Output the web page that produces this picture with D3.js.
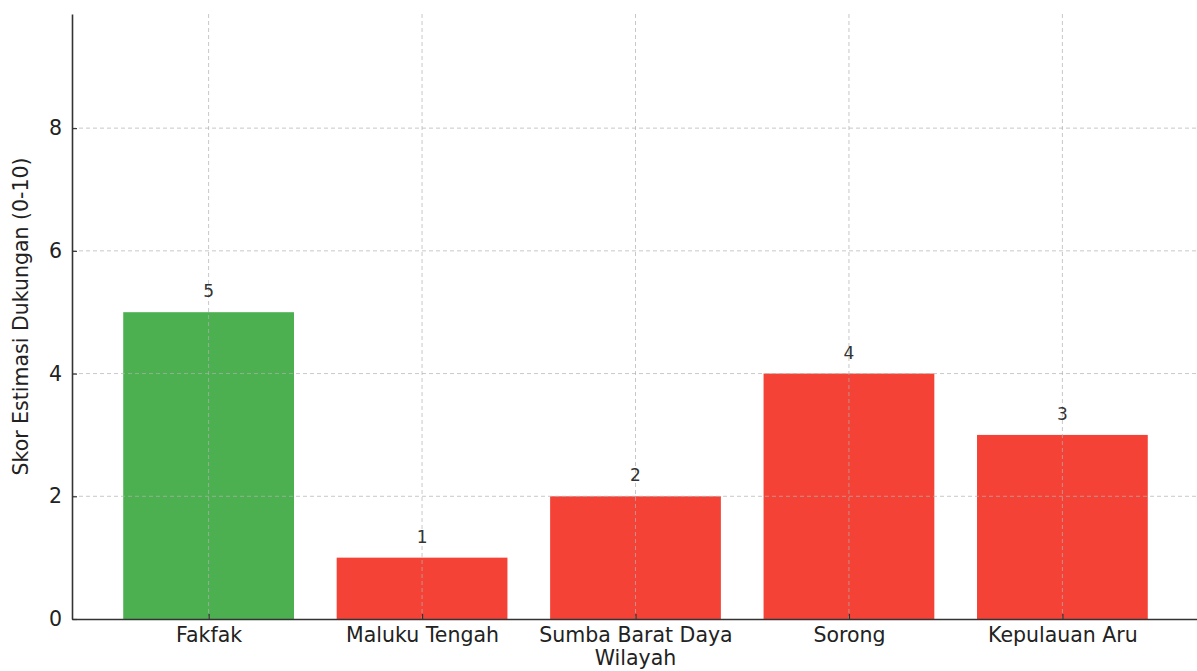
<!DOCTYPE html>
<html>
<head>
<meta charset="utf-8">
<script src="https://cdn.jsdelivr.net/npm/d3@7"></script>
<style>
  body { margin: 0; background: #fff; }
  svg { display: block; }
  svg text { font-family: "DejaVu Sans", sans-serif; }
</style>
</head>
<body>
<div id="chart"></div>
<script>
const regions = ['Fakfak', 'Maluku Tengah', 'Sumba Barat Daya', 'Sorong', 'Kepulauan Aru'];
const scores = [5, 1, 2, 4, 3];
const barColors = ['#4caf50', '#f44336', '#f44336', '#f44336', '#f44336'];
const yTicks = [0, 2, 4, 6, 8];

const width = 1197, height = 671;
const margin = { top: 14, right: -2, bottom: 52, left: 72 };

const svg = d3.select('#chart').append('svg')
  .attr('width', width)
  .attr('height', height);

// matplotlib-like: band centers at integer positions, bars 0.8 wide, 5% margin
const x = d3.scaleLinear()
  .domain([-0.64, regions.length - 1 + 0.64])
  .range([margin.left, width - margin.right]);
const y = d3.scaleLinear()
  .domain([0, 9.86])
  .range([height - margin.bottom, margin.top]);
const barW = x(0.8) - x(0);

// bars
svg.append('g')
  .selectAll('rect')
  .data(scores)
  .join('rect')
  .attr('x', (d, i) => x(i) - barW / 2)
  .attr('y', d => y(d))
  .attr('width', barW)
  .attr('height', d => y(0) - y(d))
  .attr('fill', (d, i) => barColors[i]);

// grid drawn over the bars
const grid = svg.append('g')
  .attr('stroke', '#b0b0b0')
  .attr('stroke-opacity', 0.7)
  .attr('stroke-dasharray', '4,3')
  .attr('stroke-width', 1);
grid.selectAll('.hg')
  .data(yTicks.slice(1))
  .join('line')
  .attr('x1', margin.left).attr('x2', width)
  .attr('y1', d => y(d)).attr('y2', d => y(d));
grid.selectAll('.vg')
  .data(regions)
  .join('line')
  .attr('x1', (d, i) => x(i)).attr('x2', (d, i) => x(i))
  .attr('y1', margin.top).attr('y2', y(0));

// value labels
svg.append('g')
  .selectAll('text')
  .data(scores)
  .join('text')
  .attr('x', (d, i) => x(i))
  .attr('y', d => y(d) - 15)
  .attr('text-anchor', 'middle')
  .attr('font-size', 17)
  .attr('fill', '#333')
  .text(d => d);

// axes with inward ticks
const xAxis = svg.append('g')
  .attr('transform', `translate(0,${y(0)})`)
  .call(d3.axisBottom(x)
    .tickValues(d3.range(regions.length))
    .tickFormat(i => regions[i])
    .tickSizeInner(-5)
    .tickSizeOuter(0)
    .tickPadding(8));
xAxis.attr('font-family', null);
xAxis.select('.domain').attr('stroke', '#333').attr('stroke-width', 1.6);
xAxis.selectAll('.tick line').attr('stroke', '#333').attr('stroke-width', 1.2);
xAxis.selectAll('.tick text').attr('font-size', 20.5).attr('fill', '#222');

const yAxis = svg.append('g')
  .attr('transform', `translate(${margin.left},0)`)
  .call(d3.axisLeft(y)
    .tickValues(yTicks)
    .tickSizeInner(-5)
    .tickSizeOuter(0)
    .tickPadding(10));
yAxis.attr('font-family', null);
yAxis.select('.domain').attr('stroke', '#333').attr('stroke-width', 1.6);
yAxis.selectAll('.tick line').attr('stroke', '#333').attr('stroke-width', 1.2);
yAxis.selectAll('.tick text').attr('font-size', 20.5).attr('fill', '#222');

// axis titles
svg.append('text')
  .attr('x', x((regions.length - 1) / 2))
  .attr('y', 665)
  .attr('text-anchor', 'middle')
  .attr('font-size', 20.5)
  .attr('fill', '#222')
  .text('Wilayah');

svg.append('text')
  .attr('transform', `translate(28,${(margin.top + y(0)) / 2}) rotate(-90)`)
  .attr('text-anchor', 'middle')
  .attr('font-size', 20.5)
  .attr('fill', '#222')
  .text('Skor Estimasi Dukungan (0-10)');
</script>
</body>
</html>
